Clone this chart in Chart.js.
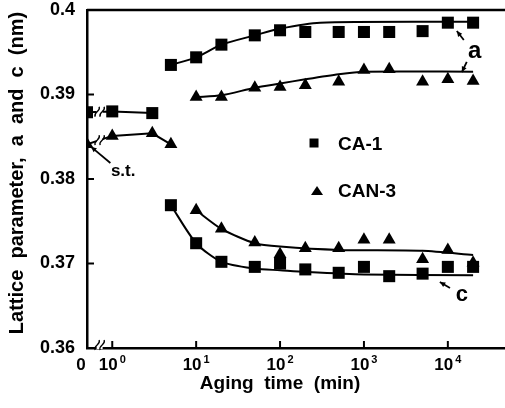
<!DOCTYPE html>
<html>
<head>
  <title>Lattice parameter vs aging time</title>
  <script src="https://cdn.jsdelivr.net/npm/chart.js"></script>
  <style>
    body { margin: 0; background: #fff; }
    #wrap { width: 505px; height: 408px; }
  </style>
</head>
<body>
  <div id="wrap"><canvas id="lattice-chart"></canvas></div>
  <script>
    // "0" min (solution treated) sits at the left edge of the log axis
    const zeroPos = 0.5;

    // early points, before the a / c split
    const ca1EarlyTimes = [0, 1, 3];
    const ca1Early = [0.3879, 0.3880, 0.3878];
    const can3EarlyTimes = [0, 1, 3, 5];
    const can3Early = [0.3841, 0.3851, 0.3854, 0.3841];

    // aging times (min) for the split branches
    const agingTimes = [5, 10, 20, 50, 100, 200, 500, 1000, 2000, 5000, 10000, 20000];
    const ca1A = [0.3935, 0.3944, 0.3959, 0.3970, 0.3976, 0.3974, 0.3974, 0.3974, 0.3974, 0.3975, 0.3985, 0.3985];
    const ca1C = [0.3769, 0.3724, 0.3702, 0.3696, 0.3700, 0.3693, 0.3689, 0.3696, 0.3685, 0.3688, 0.3696, 0.3696];
    const can3A = [null, 0.3897, 0.3897, 0.3908, 0.3909, 0.3911, 0.3915, 0.3929, 0.3930, 0.3915, 0.3918, 0.3916];
    const can3C = [null, 0.3763, 0.3741, 0.3725, 0.3711, 0.3718, 0.3718, 0.3728, 0.3728, 0.3705, 0.3716, 0.3701];

    // hand-drawn trend curves
    const fitCa1ATimes = [5, 10, 20, 50, 100, 300, 20000];
    const fitCa1A = [0.3935, 0.3944, 0.3959, 0.3970, 0.3978, 0.3985, 0.3986];
    const fitCan3ATimes = [10, 20, 50, 100, 200, 500, 1000, 20000];
    const fitCan3A = [0.3897, 0.3899, 0.3908, 0.3913, 0.3918, 0.3924, 0.3927, 0.3927];
    const fitCa1CTimes = [5, 10, 20, 50, 100, 200, 1000, 20000];
    const fitCa1C = [0.3769, 0.3724, 0.3702, 0.3694, 0.3692, 0.3690, 0.3687, 0.3686];
    const fitCan3CTimes = [10, 20, 50, 100, 500, 5000, 20000];
    const fitCan3C = [0.3763, 0.3741, 0.3724, 0.3720, 0.3716, 0.3715, 0.3710];

    const xTickVals = [zeroPos, 1, 10, 100, 1000, 10000];
    const xTickExps = ['', '0', '1', '2', '3', '4'];
    const yTickVals = [0.36, 0.37, 0.38, 0.39, 0.40];
    const yTickLabels = ['0.36', '0.37', '0.38', '0.39', '0.4'];

    const FONT = '"Liberation Sans", Arial, sans-serif';

    function pts(times, vals) {
      const out = [];
      times.forEach(function(t, i) {
        if (vals[i] !== null) out.push({ x: t === 0 ? zeroPos : t, y: vals[i] });
      });
      return out;
    }

    function markers(data, style, r) {
      return { data: data, showLine: false, pointStyle: style, pointRadius: r,
        pointBackgroundColor: '#000', pointBorderColor: '#000', pointBorderWidth: 0 };
    }

    function curve(data, tension) {
      return { data: data, showLine: true, pointRadius: 0, borderColor: '#000',
        borderWidth: 2, tension: tension };
    }

    function arrow(ctx, x1, y1, x2, y2) {
      const ang = Math.atan2(y2 - y1, x2 - x1);
      ctx.beginPath();
      ctx.moveTo(x1, y1);
      ctx.lineTo(x2, y2);
      ctx.lineWidth = 1.8;
      ctx.stroke();
      ctx.beginPath();
      ctx.moveTo(x2, y2);
      ctx.lineTo(x2 - 6 * Math.cos(ang - 0.45), y2 - 6 * Math.sin(ang - 0.45));
      ctx.lineTo(x2 - 6 * Math.cos(ang + 0.45), y2 - 6 * Math.sin(ang + 0.45));
      ctx.closePath();
      ctx.fill();
    }

    // little "≈" break symbol
    function breakMark(ctx, cx, cy) {
      ctx.fillStyle = '#fff';
      ctx.fillRect(cx - 3, cy - 4, 6, 8);
      ctx.fillStyle = '#000';
      ctx.lineWidth = 1.3;
      [-2.5, 2.5].forEach(function(dx) {
        ctx.beginPath();
        ctx.moveTo(cx + dx - 2, cy + 5);
        ctx.bezierCurveTo(cx + dx - 4, cy, cx + dx + 4, cy, cx + dx + 2, cy - 5);
        ctx.stroke();
      });
    }

    const decorations = {
      id: 'decorations',
      afterDatasetsDraw: function(chart) {
        const ctx = chart.ctx;
        ctx.save();
        ctx.strokeStyle = '#000';
        // breaks between 0 and 10^0 on the early curves
        [chart.getDatasetMeta(6), chart.getDatasetMeta(7)].forEach(function(meta) {
          const p0 = meta.data[0], p1 = meta.data[1];
          breakMark(ctx, (p0.x + p1.x) / 2, (p0.y + p1.y) / 2);
        });
        ctx.restore();
      },
      afterDraw: function(chart) {
        const ctx = chart.ctx;
        const a = chart.chartArea;
        const x = chart.scales.x;
        const y = chart.scales.y;
        ctx.save();
        ctx.strokeStyle = '#000';
        ctx.fillStyle = '#000';

        // top frame line
        ctx.lineWidth = 2.5;
        ctx.beginPath();
        ctx.moveTo(a.left, a.top);
        ctx.lineTo(a.right, a.top);
        ctx.stroke();

        // inward ticks
        ctx.lineWidth = 2;
        xTickVals.slice(1).forEach(function(v) {
          const px = x.getPixelForValue(v);
          ctx.beginPath();
          ctx.moveTo(px, a.bottom);
          ctx.lineTo(px, a.bottom - 7);
          ctx.stroke();
        });
        yTickVals.slice(1, 4).forEach(function(v) {
          const py = y.getPixelForValue(v);
          ctx.beginPath();
          ctx.moveTo(a.left, py);
          ctx.lineTo(a.left + 7, py);
          ctx.stroke();
        });

        breakMark(ctx, (x.getPixelForValue(zeroPos) + x.getPixelForValue(1)) / 2, a.bottom - 3);

        // x tick labels with superscript exponents
        ctx.textBaseline = 'alphabetic';
        ctx.textAlign = 'left';
        xTickVals.forEach(function(v, i) {
          const px = x.getPixelForValue(v);
          if (xTickExps[i] === '') {
            ctx.font = 'bold 17px ' + FONT;
            ctx.textAlign = 'center';
            ctx.fillText('0', px - 6, a.bottom + 22);
            ctx.textAlign = 'left';
            return;
          }
          ctx.font = 'bold 17px ' + FONT;
          const w1 = ctx.measureText('10').width;
          ctx.font = 'bold 11px ' + FONT;
          const w2 = ctx.measureText(xTickExps[i]).width;
          const left = px - (w1 + w2 + 2) / 2;
          ctx.font = 'bold 17px ' + FONT;
          ctx.fillText('10', left, a.bottom + 22);
          ctx.font = 'bold 11px ' + FONT;
          ctx.fillText(xTickExps[i], left + w1 + 2, a.bottom + 15);
        });

        // axis titles
        ctx.font = 'bold 19px ' + FONT;
        ctx.textAlign = 'center';
        ctx.textBaseline = 'middle';
        ctx.fillText('Aging  time  (min)', x.getPixelForValue(100), 384);
        ctx.save();
        ctx.translate(17, 173);
        ctx.rotate(-Math.PI / 2);
        ctx.font = 'bold 20px ' + FONT;
        ctx.fillText('Lattice  parameter,  a  and  c  (nm)', 0, 0);
        ctx.restore();

        // legend
        const lx = x.getPixelForValue(254);
        const ly1 = y.getPixelForValue(0.38426);
        const ly2 = y.getPixelForValue(0.37858);
        ctx.fillRect(lx - 4.5, ly1 - 4.5, 9, 9);
        ctx.beginPath();
        ctx.moveTo(lx + 3, ly2 - 5);
        ctx.lineTo(lx + 9, ly2 + 4);
        ctx.lineTo(lx - 3, ly2 + 4);
        ctx.closePath();
        ctx.fill();
        ctx.textAlign = 'left';
        ctx.font = 'bold 19px ' + FONT;
        ctx.fillText('CA-1', lx + 24, ly1 + 2);
        ctx.fillText('CAN-3', lx + 24, ly2 + 1);

        // annotations
        ctx.font = 'bold 17px ' + FONT;
        ctx.textAlign = 'center';
        ctx.fillText('s.t.', x.getPixelForValue(1.35), y.getPixelForValue(0.38095));
        arrow(ctx, x.getPixelForValue(0.95), y.getPixelForValue(0.3819),
          x.getPixelForValue(0.56), y.getPixelForValue(0.3838));

        ctx.font = 'bold 24px ' + FONT;
        ctx.fillText('a', x.getPixelForValue(20900), y.getPixelForValue(0.39515));
        arrow(ctx, x.getPixelForValue(15500), y.getPixelForValue(0.39645),
          x.getPixelForValue(12800), y.getPixelForValue(0.39751));
        arrow(ctx, x.getPixelForValue(16800), y.getPixelForValue(0.39385),
          x.getPixelForValue(14700), y.getPixelForValue(0.39266));

        ctx.font = 'bold 22px ' + FONT;
        ctx.fillText('c', x.getPixelForValue(14700), y.getPixelForValue(0.36627));
        arrow(ctx, x.getPixelForValue(10600), y.getPixelForValue(0.3671),
          x.getPixelForValue(8030), y.getPixelForValue(0.3678));

        ctx.restore();
      }
    };

    const ctx = document.getElementById('lattice-chart').getContext('2d');
    new Chart(ctx, {
      type: 'scatter',
      data: {
        datasets: [
          markers(pts(ca1EarlyTimes, ca1Early).concat(pts(agingTimes, ca1A), pts(agingTimes, ca1C)), 'rect', 8.5),
          markers(pts(can3EarlyTimes, can3Early).concat(pts(agingTimes, can3A), pts(agingTimes, can3C)), 'triangle', 7.5),
          curve(pts(fitCa1ATimes, fitCa1A), 0.25),
          curve(pts(fitCan3ATimes, fitCan3A), 0.25),
          curve(pts(fitCa1CTimes, fitCa1C), 0.25),
          curve(pts(fitCan3CTimes, fitCan3C), 0.25),
          curve(pts(ca1EarlyTimes, ca1Early), 0),
          curve(pts(can3EarlyTimes, can3Early), 0)
        ]
      },
      options: {
        responsive: true,
        maintainAspectRatio: false,
        animation: false,
        layout: { autoPadding: false, padding: 0 },
        plugins: { legend: { display: false }, tooltip: { enabled: false } },
        scales: {
          x: {
            type: 'logarithmic',
            min: zeroPos,
            max: 48000,
            grid: { display: false, drawTicks: false },
            border: { color: '#000', width: 2.5 },
            ticks: { display: false },
            afterBuildTicks: function(scale) {
              scale.ticks = xTickVals.map(function(v) { return { value: v }; });
            },
            afterFit: function(scale) { scale.height = 60; }
          },
          y: {
            min: 0.36,
            max: 0.40,
            grid: { display: false, drawTicks: false },
            border: { color: '#000', width: 2.5 },
            afterBuildTicks: function(scale) {
              scale.ticks = yTickVals.map(function(v) { return { value: v }; });
            },
            ticks: {
              color: '#000',
              padding: 12,
              font: { family: FONT, size: 18, weight: 'bold' },
              callback: function(v, i) { return yTickLabels[i]; }
            },
            afterFit: function(scale) {
              scale.width = 87;
              scale.paddingTop = 10;
            }
          }
        }
      },
      plugins: [decorations]
    });
  </script>
</body>
</html>
